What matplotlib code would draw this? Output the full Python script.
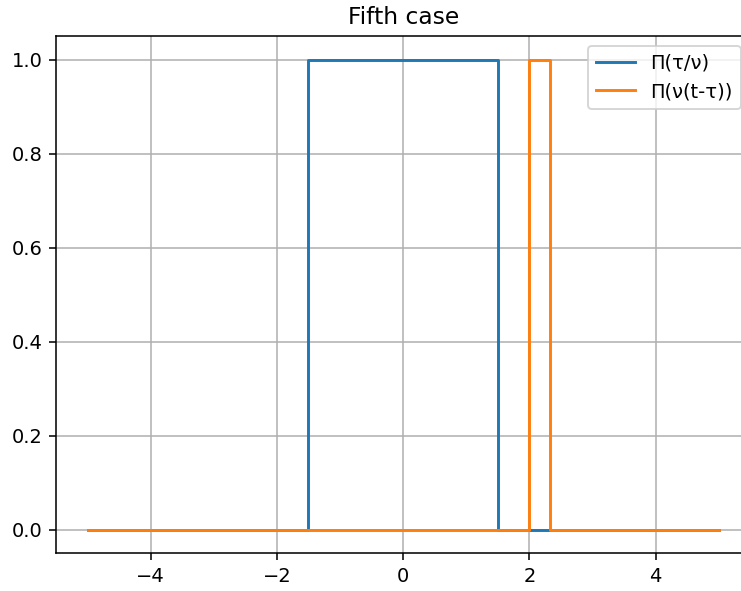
import matplotlib
matplotlib.use("Agg")
import matplotlib.pyplot as plt

# rectangular pulses as step points
tau_x = [-5, -1.5, -1.5, 1.5, 1.5, 5]
tau_y = [0, 0, 1, 1, 0, 0]
shift_x = [-5, 2, 2, 2.33, 2.33, 5]
shift_y = [0, 0, 1, 1, 0, 0]

DPI = 140
fig = plt.figure(figsize=(741 / DPI, 591 / DPI), dpi=DPI)
# axes run past the right edge, like the cropped original
ax = fig.add_axes([0.0756, 0.0635, 0.937, 0.8755])
ax.plot(tau_x, tau_y, label="Π(τ/ν)")
ax.plot(shift_x, shift_y, label="Π(ν(t-τ))")
ax.set_title("Fifth case")
ax.grid(True)
ax.legend(loc="upper right")

fig.savefig("out.png", dpi=DPI)
